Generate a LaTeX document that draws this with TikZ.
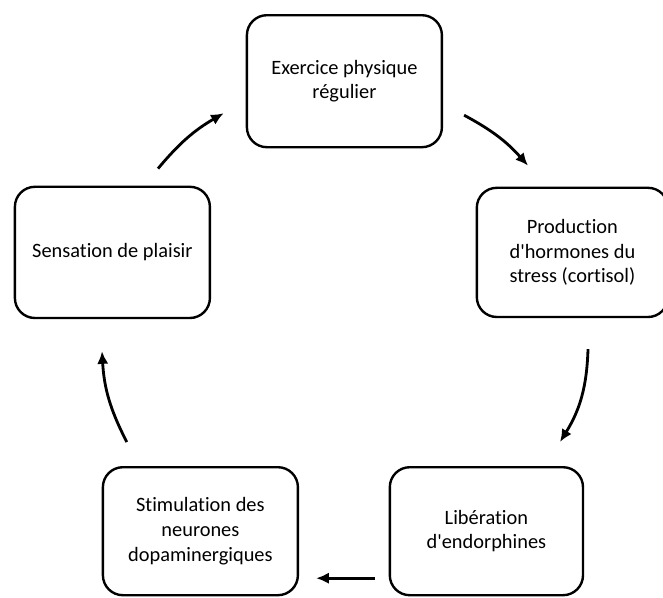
\documentclass[tikz,border=0pt]{standalone}
\usepackage{fontspec}
\usepackage{tikz}
\setmainfont[Ligatures=NoCommon]{Carlito}
\usetikzlibrary{arrows.meta}
\usetikzlibrary{positioning}
\tikzset{stepbox/.style = {draw, rounded corners=0.5cm, line width=1.7pt,
                           align=center, inner sep=0pt,
                           font=\fontsize{14.5}{17.5}\selectfont}}
\tikzset{cycarrow/.style = {-{Latex[length=9pt, width=8pt]}, line width=2pt}}

\begin{document}
\begin{tikzpicture}
      \clip (0, 0) rectangle (16.575, -14.925);

      \node [stepbox, minimum width=4.875cm, minimum height=3.3cm] (ex) at (8.61, -2.03) {Exercice physique\\régulier};
      \node [stepbox, minimum width=4.78cm, minimum height=3.23cm] (prod) at (14.31, -6.31) {Production\\d\textquotesingle hormones du\\stress (cortisol)};
      \node [stepbox, minimum width=4.83cm, minimum height=3.2cm] (lib) at (12.16, -13.28) {Libération\\d\textquotesingle endorphines};
      \node [stepbox, minimum width=4.875cm, minimum height=3.2cm] (stim) at (5.01, -13.28) {Stimulation des\\neurones\\dopaminergiques};
      \node [stepbox, minimum width=4.875cm, minimum height=3.28cm] (sens) at (2.81, -6.31) {Sensation de plaisir};

      \draw [cycarrow] ([shift={(0.525, -0.85)}]ex.east) to [bend left=10] ([shift={(-1.11, 0.525)}]prod.north);
      \draw [cycarrow] ([shift={(0.39, -0.775)}]prod.south) to [bend left=15] ([shift={(1.84, 0.6)}]lib.north);
      \draw [cycarrow] ([shift={(-0.35, -1.175)}]lib.west) -- ([shift={(0.425, -1.175)}]stim.east);
      \draw [cycarrow] ([shift={(-1.84, 0.6)}]stim.north) to [bend left=12] ([shift={(-0.26, -0.8)}]sens.south);
      \draw [cycarrow] ([shift={(1.14, 0.425)}]sens.north) to [bend left=10] ([shift={(-0.55, -0.8)}]ex.west);
    \end{tikzpicture}
\end{document}
